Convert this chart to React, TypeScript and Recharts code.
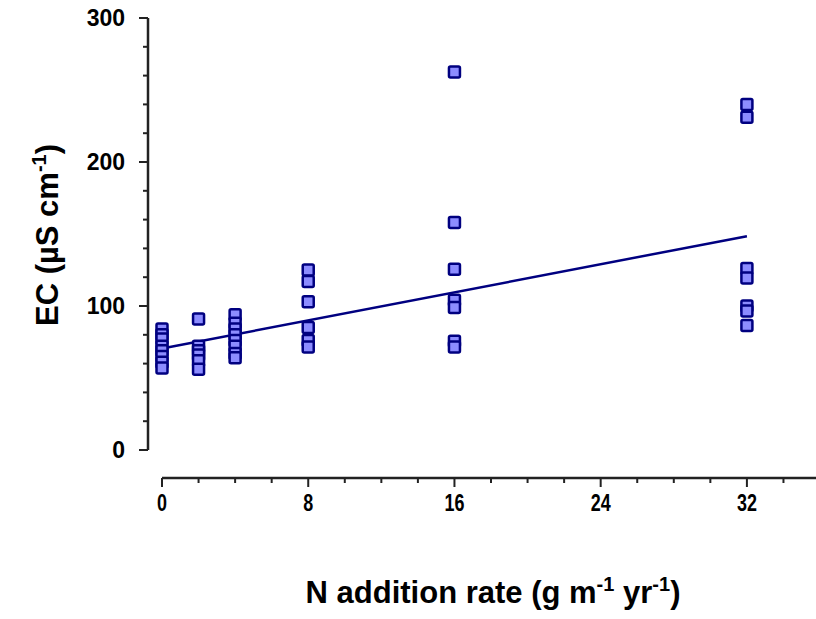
import React from 'react';
import { ComposedChart, Scatter, Line, XAxis, YAxis, ReferenceLine } from 'recharts';

const rate0 = [84, 80, 77, 72, 69, 65, 61, 57];
const rate2 = [91, 72, 69, 66, 62, 56];
const rate4 = [94, 88, 84, 80, 76, 72, 67, 64];
const rate8 = [125, 117, 103, 85, 76, 71.5];
const rate16 = [262.5, 158, 125.5, 104, 99, 75.5, 71.5];
const rate32 = [240, 231, 126, 119.5, 100, 96.5, 86.5];

const rates = [0, 2, 4, 8, 16, 32];
const groups = [rate0, rate2, rate4, rate8, rate16, rate32];

const fitX = [0, 32];
const fitY = [70.5, 148.5];

const xTicks = [0, 2, 4, 6, 8, 10, 12, 14, 16, 18, 20, 22, 24, 26, 28, 30, 32, 34];
const xMajor = [0, 8, 16, 24, 32];
const yTicks = [0, 20, 40, 60, 80, 100, 120, 140, 160, 180, 200, 220, 240, 260, 280, 300];
const yMajor = [0, 100, 200, 300];

const X_MIN = -0.766;
const X_MAX = 35.78;
const Y_MIN = -19.44;
const Y_MAX = 300;

const points = groups.flatMap((g, i) => g.map((v) => ({ x: rates[i], y: v })));
const fitData = fitX.map((x, i) => ({ x, y: fitY[i] }));

const FONT = '"Liberation Sans", Arial, sans-serif';
const AXIS_COLOR = '#222';

const Square = (props: any) => {
  const { cx, cy } = props;
  if (cx == null || cy == null) return null;
  const s = 11;
  return (
    <rect
      x={cx - s / 2}
      y={cy - s / 2}
      width={s}
      height={s}
      rx={1.5}
      fill="#8c8cff"
      stroke="#000080"
      strokeWidth={2.5}
    />
  );
};

const YTick = (props: any) => {
  const { x, y, payload } = props;
  const major = yMajor.includes(payload.value);
  return (
    <g>
      <line x1={x - (major ? 9 : 5)} y1={y} x2={x} y2={y} stroke={AXIS_COLOR} strokeWidth={2} />
      {major && (
        <text
          x={x - 23}
          y={y}
          textAnchor="end"
          dominantBaseline="central"
          fontFamily={FONT}
          fontWeight="bold"
          fontSize={23}
          fill="#000"
        >
          {payload.value}
        </text>
      )}
    </g>
  );
};

const XTick = (props: any) => {
  const { x, y, payload } = props;
  const major = xMajor.includes(payload.value);
  const ty = y + 33;
  return (
    <g>
      <line x1={x} y1={y} x2={x} y2={y + (major ? 9 : 5)} stroke={AXIS_COLOR} strokeWidth={2} />
      {major && (
        <text
          x={0}
          y={0}
          transform={`translate(${x} ${ty}) scale(0.78 1)`}
          textAnchor="middle"
          fontFamily={FONT}
          fontWeight="bold"
          fontSize={23}
          fill="#000"
        >
          {payload.value}
        </text>
      )}
    </g>
  );
};

const XTitle = (props: any) => {
  const vb = props.viewBox || {};
  const cx = (vb.x ?? 148) + 345;
  return (
    <text x={cx} y={603} textAnchor="middle" fontFamily={FONT} fontWeight="bold" fontSize={31} fill="#000">
      N addition rate (g m
      <tspan dy={-12} fontSize={20}>-1</tspan>
      <tspan dy={12}> yr</tspan>
      <tspan dy={-12} fontSize={20}>-1</tspan>
      <tspan dy={12}>)</tspan>
    </text>
  );
};

const YTitle = (props: any) => {
  const vb = props.viewBox || {};
  const cy = (vb.y ?? 18) + 217;
  const cx = 58;
  return (
    <text
      x={cx}
      y={cy}
      transform={`rotate(-90 ${cx} ${cy})`}
      textAnchor="middle"
      fontFamily={FONT}
      fontWeight="bold"
      fontSize={31}
      fill="#000"
    >
      EC (µS cm
      <tspan dy={-12} fontSize={20}>-1</tspan>
      <tspan dy={12}>)</tspan>
    </text>
  );
};

export default function App() {
  return (
    <div style={{ position: 'absolute', left: 0, top: 0, background: '#fff' }}>
      <ComposedChart
        width={816}
        height={619}
        margin={{ top: 18, right: 0, bottom: 0, left: 0 }}
      >
        <XAxis
          type="number"
          dataKey="x"
          domain={[X_MIN, X_MAX]}
          allowDataOverflow
          ticks={xTicks}
          tick={<XTick />}
          tickSize={0}
          tickMargin={0}
          tickLine={false}
          axisLine={false}
          height={141}
          interval={0}
          label={{ content: <XTitle /> }}
        />
        <YAxis
          type="number"
          dataKey="y"
          domain={[Y_MIN, Y_MAX]}
          allowDataOverflow
          ticks={yTicks}
          tick={<YTick />}
          tickSize={0}
          tickMargin={0}
          tickLine={false}
          axisLine={false}
          width={148}
          interval={0}
          label={{ content: <YTitle /> }}
        />
        <ReferenceLine
          segment={[{ x: X_MIN, y: 0 }, { x: X_MIN, y: Y_MAX }]}
          stroke={AXIS_COLOR}
          strokeWidth={2.5}
          ifOverflow="visible"
        />
        <ReferenceLine
          segment={[{ x: 0, y: Y_MIN }, { x: X_MAX, y: Y_MIN }]}
          stroke={AXIS_COLOR}
          strokeWidth={2.5}
          ifOverflow="visible"
        />
        <Scatter data={points} dataKey="y" shape={<Square />} isAnimationActive={false} />
        <Line
          data={fitData}
          dataKey="y"
          stroke="#000080"
          strokeWidth={2.5}
          dot={false}
          activeDot={false}
          isAnimationActive={false}
          type="linear"
        />
      </ComposedChart>
    </div>
  );
}
